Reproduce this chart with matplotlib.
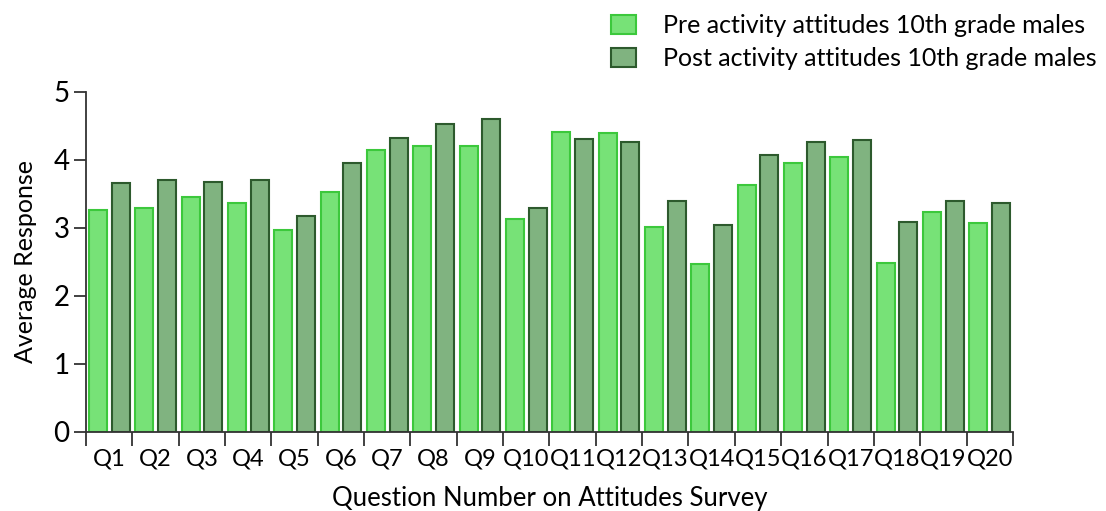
import numpy as np
import matplotlib.pyplot as plt
from matplotlib.ticker import FixedLocator, NullFormatter, FixedFormatter

plt.rcParams['font.family'] = ['Lato', 'DejaVu Sans']

questions = ['Q%d' % i for i in range(1, 21)]
pre = [3.27, 3.30, 3.46, 3.37, 2.97, 3.53, 4.14, 4.20, 4.20, 3.13,
       4.41, 4.40, 3.02, 2.47, 3.63, 3.96, 4.05, 2.49, 3.24, 3.07]
post = [3.66, 3.70, 3.68, 3.71, 3.17, 3.95, 4.33, 4.53, 4.60, 3.29,
        4.31, 4.27, 3.40, 3.04, 4.07, 4.27, 4.29, 3.09, 3.40, 3.36]
labels = ['Pre activity attitudes 10th grade males',
          'Post activity attitudes 10th grade males']

fig = plt.figure(figsize=(11.06, 5.11), dpi=100)
ax = fig.add_axes([0.0778, 0.155, 0.838, 0.665])

x = np.arange(len(questions))
w = 0.39
ax.bar(x - 0.245, pre, w, color='#77e277', edgecolor='#3cc83c', linewidth=1.5, label=labels[0])
ax.bar(x + 0.245, post, w, color='#80b380', edgecolor='#2d5a2d', linewidth=1.5, label=labels[1])

ax.set_xlim(-0.5, len(questions) - 0.5)
ax.set_ylim(0, 5)
ax.set_yticks(range(6))
ax.tick_params(axis='y', labelsize=20, length=9, width=1.3, color='#333333', pad=3)

# ticks at group boundaries, labels centred under each group
ax.xaxis.set_major_locator(FixedLocator(np.arange(-0.5, len(questions), 1.0)))
ax.xaxis.set_major_formatter(NullFormatter())
ax.xaxis.set_minor_locator(FixedLocator(x))
ax.xaxis.set_minor_formatter(FixedFormatter(questions))
ax.tick_params(axis='x', which='major', length=10, width=1.3, color='#333333', direction='out')
ax.tick_params(axis='x', which='minor', length=0, labelsize=17, pad=12)

for s in ['top', 'right']:
    ax.spines[s].set_visible(False)
for s in ['left', 'bottom']:
    ax.spines[s].set_linewidth(1.3)
    ax.spines[s].set_color('#333333')

ax.set_xlabel('Question Number on Attitudes Survey', fontsize=18.5, labelpad=12)
ax.set_ylabel('Average Response', fontsize=18, labelpad=12)

fig.legend(loc='upper left', bbox_to_anchor=(0.552, 0.972), frameon=False, fontsize=18,
           handlelength=1.0, handleheight=0.8, handletextpad=1.1, labelspacing=0.4,
           borderaxespad=0, borderpad=0)

fig.savefig('out.png', dpi=100)
